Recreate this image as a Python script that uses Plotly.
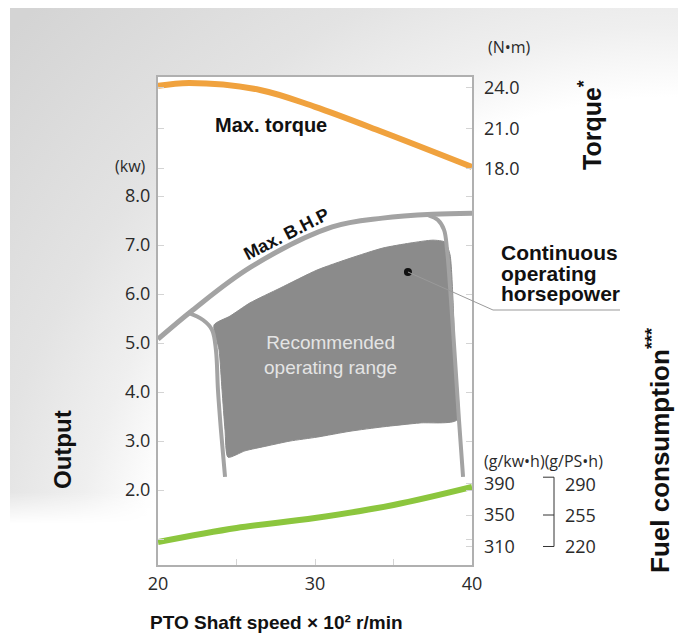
import base64
import plotly.graph_objects as go

# ---------------- data ----------------
speed_torque = [20, 22, 26.5, 30, 34.3, 40]
torque_nm = [24.15, 24.37, 23.85, 22.6, 20.74, 18.15]

speed_fuel = [20, 25, 30, 35, 40]
fuel_gkwh = [315.7, 333.5, 346.2, 362.7, 385.6]

speed_bhp = [20, 22.2, 25.9, 31.1, 34.3, 37.5, 40]
bhp_kw = [5.08, 5.67, 6.55, 7.37, 7.55, 7.63, 7.65]

# recommended operating range (fill outline, clockwise)
range_speed = [23.57, 24.59, 25.86, 27.77, 30.13, 32.23, 34.33, 36.05, 37.52, 38.28,
               38.60, 38.79, 38.92, 39.04,
               36.69, 34.33, 32.23, 30.13, 28.41, 26.94, 25.54, 24.46,
               24.27, 24.08, 23.89, 23.57]
range_kw = [5.37, 5.55, 5.82, 6.12, 6.49, 6.73, 6.94, 7.04, 7.10, 7.06,
            6.80, 5.88, 4.65, 3.43,
            3.37, 3.29, 3.20, 3.08, 3.00, 2.90, 2.80, 2.67,
            3.22, 4.04, 4.86, 5.37]

left_leg_speed = [21.9, 22.87, 23.44, 23.69, 23.82, 24.01, 24.27]
left_leg_kw = [5.62, 5.47, 5.27, 4.86, 4.04, 3.22, 2.27]
right_leg_speed = [37.20, 37.83, 38.22, 38.41, 38.66, 38.92, 39.17, 39.43]
right_leg_kw = [7.61, 7.51, 7.31, 6.90, 5.88, 4.65, 3.43, 2.27]

cont_speed = [35.92]
cont_kw = [6.45]

x_ticks = [20, 25, 30, 35, 40]
x_ticktext = ["20", "", "30", "", "40"]
kw_ticks = [1, 2, 3, 4, 5, 6, 7, 8]
kw_ticktext = ["", "2.0", "3.0", "4.0", "5.0", "6.0", "7.0", "8.0"]
torque_ticks = [18, 21, 24]
torque_ticktext = ["18.0", "21.0", "24.0"]
fuel_ticks = [310, 350, 390]
fuel_ticktext = ["310", "350", "390"]
fuel_ps_text = ["220", "255", "290"]

# ---------------- layout geometry ----------------
W, H = 678, 637
L, R, T, B = 158, 206, 77, 72
pw, ph = W - L - R, H - T - B

kw_range = [0.47, 10.43]
torque_range = [-11.33, 24.81]
fuel_range = [286.5, 906.2]
x_range = [20, 40]

NUM = "Open Sans"
BOLD = "Liberation Sans"
TXT = "#2a2a2a"


def px_x(px):
    return (px - L) / pw


def px_y(py):
    return (H - B - py) / ph


# background gradient (svg image placed at (10,8)), white hole behind plot area
svg = f"""<svg xmlns='http://www.w3.org/2000/svg' width='668' height='629' viewBox='0 0 668 629' preserveAspectRatio='none'>
<defs>
<radialGradient id='g' gradientUnits='userSpaceOnUse' cx='668' cy='629' r='900'>
<stop offset='0' stop-color='#ffffff'/>
<stop offset='0.6' stop-color='#ffffff'/>
<stop offset='0.68' stop-color='#efefef'/>
<stop offset='0.78' stop-color='#e3e3e3'/>
<stop offset='1' stop-color='#d4d4d4'/>
</radialGradient>
<linearGradient id='v' gradientUnits='userSpaceOnUse' x1='0' y1='0' x2='0' y2='629'>
<stop offset='0' stop-color='#ffffff'/>
<stop offset='0.77' stop-color='#ffffff'/>
<stop offset='0.82' stop-color='#000000'/>
</linearGradient>
<mask id='m'><rect width='668' height='629' fill='url(#v)'/></mask>
</defs>
<rect width='668' height='629' fill='url(#g)' mask='url(#m)'/>
<rect x='{L-10}' y='{T-8}' width='{pw}' height='{ph}' fill='#ffffff'/>
</svg>"""
svg_uri = "data:image/svg+xml;base64," + base64.b64encode(svg.encode()).decode()

fig = go.Figure()

fig.add_trace(go.Scatter(x=range_speed, y=range_kw, mode="lines", fill="toself",
                         fillcolor="#8b8b8b", line=dict(color="#8b8b8b", width=1, shape="spline", smoothing=0.6),
                         hoverinfo="skip", showlegend=False))
fig.add_trace(go.Scatter(x=left_leg_speed, y=left_leg_kw, mode="lines",
                         line=dict(color="#a3a3a3", width=4, shape="spline"), hoverinfo="skip", showlegend=False))
fig.add_trace(go.Scatter(x=right_leg_speed, y=right_leg_kw, mode="lines",
                         line=dict(color="#a3a3a3", width=4, shape="spline"), hoverinfo="skip", showlegend=False))
fig.add_trace(go.Scatter(x=speed_bhp, y=bhp_kw, mode="lines",
                         line=dict(color="#a3a3a3", width=5, shape="spline"), hoverinfo="skip", showlegend=False))
fig.add_trace(go.Scatter(x=cont_speed, y=cont_kw, mode="markers",
                         marker=dict(color="#111111", size=8), hoverinfo="skip", showlegend=False))
fig.add_trace(go.Scatter(x=speed_torque, y=torque_nm, yaxis="y2", mode="lines",
                         line=dict(color="#f0a23e", width=6, shape="spline"), hoverinfo="skip", showlegend=False))
fig.add_trace(go.Scatter(x=speed_fuel, y=fuel_gkwh, yaxis="y3", mode="lines",
                         line=dict(color="#8cc63e", width=6, shape="spline"), hoverinfo="skip", showlegend=False))

tickfont = dict(family=NUM, size=18, color=TXT)

fig.update_layout(
    width=W, height=H,
    margin=dict(l=L, r=R, t=T, b=B, pad=0),
    paper_bgcolor="white", plot_bgcolor="white",
    xaxis=dict(range=x_range, tickvals=x_ticks, ticktext=x_ticktext, ticks="inside", ticklen=6,
               tickcolor="#d4d4d4", showgrid=False, zeroline=False, showline=True, linecolor="#b0b0b0",
               linewidth=2, mirror=True, tickfont=tickfont, ticklabelstandoff=1),
    yaxis=dict(range=kw_range, tickvals=kw_ticks, ticktext=kw_ticktext, ticks="inside", ticklen=6,
               tickcolor="#d4d4d4", showgrid=False, zeroline=False, showline=True, linecolor="#b0b0b0",
               linewidth=2, mirror="ticks", tickfont=tickfont, ticklabelstandoff=2),
    yaxis2=dict(range=torque_range, overlaying="y", side="right", anchor="x", tickvals=torque_ticks,
                ticktext=torque_ticktext, ticks="inside", ticklen=6, tickcolor="#d4d4d4", showgrid=False,
                zeroline=False, showline=False, mirror="ticks", tickfont=tickfont, ticklabelstandoff=11),
    yaxis3=dict(range=fuel_range, overlaying="y", side="right", anchor="x", tickvals=fuel_ticks,
                ticktext=fuel_ticktext, ticks="inside", ticklen=6, tickcolor="#d4d4d4", showgrid=False,
                zeroline=False, showline=False, tickfont=tickfont, ticklabelstandoff=11),
    images=[dict(source=svg_uri, xref="paper", yref="paper", x=px_x(10), y=px_y(8),
                 sizex=668 / pw, sizey=629 / ph, sizing="stretch", xanchor="left", yanchor="top",
                 layer="below")],
)

ann = []


def add(text, x, y, size, family=BOLD, weight="bold", color="#111111", xref="paper", yref="paper",
        xanchor="center", yanchor="middle", angle=0):
    ann.append(dict(text=text, x=x, y=y, xref=xref, yref=yref, showarrow=False, xanchor=xanchor,
                    yanchor=yanchor, textangle=angle,
                    font=dict(family=family, size=size, color=color, weight=weight)))


add("Max. torque", 27.2, 9.45, 20, xref="x", yref="y")
add("Max. B.H.P", 28.2, 7.22, 18, xref="x", yref="y", angle=-27)
add("Recommended<br>operating range", 31.0, 4.76, 19, family=BOLD, weight="normal", color="#e4e4e4",
    xref="x", yref="y")
for i, t in enumerate(["Continuous", "operating", "horsepower"]):
    add(t, px_x(499), px_y(253 + 20 * i), 21, xanchor="left")
add("(N•m)", px_x(509), px_y(47), 16, family=NUM, weight="normal", color=TXT)
add("(kw)", px_x(130), px_y(166), 16, family=NUM, weight="normal", color=TXT)
add("Torque<sup>*</sup>", px_x(590), px_y(125), 25, angle=-90)
add("Output", px_x(62), px_y(450), 24, angle=-90)
add("Fuel consumption<sup>***</sup>", px_x(658), px_y(450), 26, angle=-90)
add("(g/kw•h)(g/PS•h)", px_x(482), px_y(461), 16, family=NUM, weight="normal", color=TXT, xanchor="left")
for v, t in zip(fuel_ticks, fuel_ps_text):
    add(t, px_x(563), v, 18, family=NUM, weight="normal", color=TXT, xanchor="left", yref="y3")
add("PTO Shaft speed × 10² r/min", px_x(148), px_y(622), 19, xanchor="left")
fig.update_layout(annotations=ann)

bx0, bx1 = px_x(543), px_x(554)
bracket = (f"M {bx0} {fuel_ticks[2] + 8} L {bx1} {fuel_ticks[2] + 8} L {bx1} {fuel_ticks[0]} L {bx0} {fuel_ticks[0]} "
           f"M {bx0} {fuel_ticks[1]} L {bx1} {fuel_ticks[1]}")
dx = (cont_speed[0] - x_range[0]) / (x_range[1] - x_range[0])
dy = (cont_kw[0] - kw_range[0]) / (kw_range[1] - kw_range[0])
leader = f"M {dx} {dy} L {px_x(493)} {px_y(310)} L {px_x(620)} {px_y(310)}"
fig.update_layout(shapes=[
    dict(type="path", path=bracket, xref="paper", yref="y3", line=dict(color="#333333", width=1)),
    dict(type="path", path=leader, xref="paper", yref="paper", line=dict(color="#9a9a9a", width=1)),
])

fig.write_html("out.html", config={"displayModeBar": False},
               post_script="document.body.style.margin='0px';document.body.style.overflow='hidden';")
